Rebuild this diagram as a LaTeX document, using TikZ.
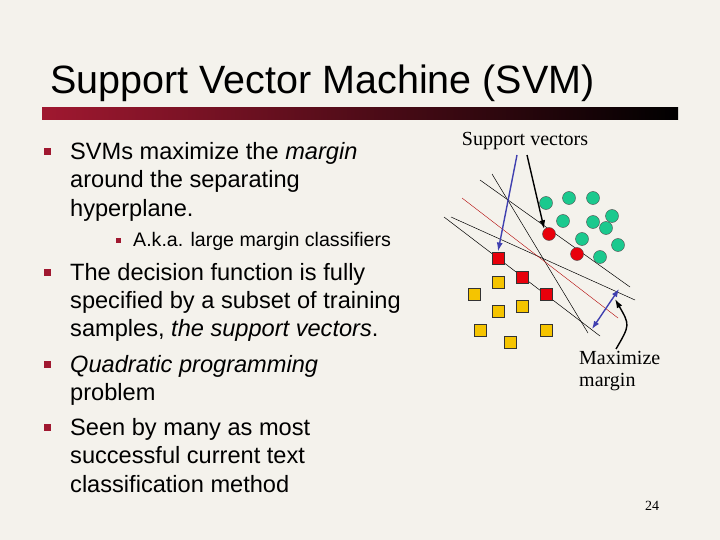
\documentclass[tikz,border=0pt]{standalone}
\usepackage{fontspec}
\setmainfont{Liberation Sans}
\newfontfamily\serifx{Liberation Serif}
\usetikzlibrary{arrows.meta}
\definecolor{bg}{HTML}{F4F2EC}
\definecolor{bul}{HTML}{A01830}
\definecolor{grn}{HTML}{1BC98E}
\definecolor{ylw}{HTML}{F5C400}
\definecolor{rd}{HTML}{E8000B}
\definecolor{bluearr}{HTML}{4040B0}
\begin{document}
\begin{tikzpicture}[x=1pt,y=-1pt,
  txt/.style={anchor=base west,inner sep=0pt,font=\fontsize{23.6}{26}\selectfont},
  stxt/.style={anchor=base west,inner sep=0pt,font=\fontsize{19.6}{22}\selectfont},
  bullet/.style={fill=bul,minimum size=7pt,inner sep=0pt},
  sbullet/.style={fill=bul,minimum size=5pt,inner sep=0pt},
  gc/.style={circle,draw=black!70,fill=grn,minimum size=13pt,inner sep=0pt,line width=0.4pt},
  rc/.style={circle,draw=black!70,fill=rd,minimum size=13pt,inner sep=0pt,line width=0.4pt},
  ys/.style={draw=black!80,fill=ylw,minimum size=12.5pt,inner sep=0pt,line width=0.4pt},
  rs/.style={draw=black!80,fill=rd,minimum size=12.5pt,inner sep=0pt,line width=0.4pt},
  hl/.style={line width=0.5pt,black},
  lab/.style={font=\serifx\fontsize{20}{22}\selectfont,inner sep=0pt,align=left}]
\fill[bg] (0,0) rectangle (720,540);
\useasboundingbox (0,0) rectangle (720,540);
\node[anchor=base west,inner sep=0pt,font=\fontsize{39.5}{44}\selectfont] (title) at (50,94) {Support Vector Machine (SVM)};
\shade[left color=bul,middle color=bul!85!black,right color=black] (42,108) rectangle (678,120);
\coordinate (bar) at (360,114);
% bullets
\node[bullet] (b1) at (47,152) {};
\node[bullet] (b2) at (47,272) {};
\node[bullet] (b3) at (47,364) {};
\node[bullet] (b4) at (47,427) {};
\node[sbullet] (s1) at (118,240) {};
\node[txt] (t1) at (70,160) {SVMs maximize the \textit{margin}};
\node[txt] (t2) at (70,188) {around the separating};
\node[txt] (t3) at (70,217) {hyperplane.};
\node[stxt] (t4) at (133,246) {A.k.a. large margin classifiers};
\node[txt] (t5) at (70,280) {The decision function is fully};
\node[txt] (t6) at (70,308) {specified by a subset of training};
\node[txt] (t7) at (70,336) {samples, \textit{the support vectors}.};
\node[txt] (t8) at (70,372) {\textit{Quadratic programming}};
\node[txt] (t9) at (70,400) {problem};
\node[txt] (t10) at (70,435) {Seen by many as most};
\node[txt] (t11) at (70,463) {successful current text};
\node[txt] (t12) at (70,492) {classification method};
% lines
\coordinate (la1) at (480,180); \coordinate (la2) at (630,287);
\coordinate (lb1) at (444,217); \coordinate (lb2) at (600,336);
\coordinate (lr1) at (462,198); \coordinate (lr2) at (618,318);
\coordinate (lc1) at (492,174); \coordinate (lc2) at (588,333);
\coordinate (ld1) at (451,217); \coordinate (ld2) at (635,300);
\draw[hl] (la1) -- (la2);
\draw[hl] (lb1) -- (lb2);
\draw[hl] (lc1) -- (lc2);
\draw[hl] (ld1) -- (ld2);
\draw[line width=0.4pt,red!70!black] (lr1) -- (lr2);
% points
\foreach \n/\x/\y in {g1/546/203,g2/569/198,g3/593/198,g4/563/221,g5/593/222,g6/612/216,g7/606/228,g8/582/239,g9/618/245,g10/600/257}
  \node[gc] (\n) at (\x,\y) {};
\node[rc] (r1) at (549,234) {};
\node[rc] (r2) at (577,254) {};
\node[rs] (q1) at (498,258) {};
\node[rs] (q2) at (522,277) {};
\node[rs] (q3) at (546,294) {};
\foreach \n/\x/\y in {y1/498/282,y2/474/294,y3/498/311,y4/522/306,y5/480/330,y6/546/330,y7/510/342}
  \node[ys] (\n) at (\x,\y) {};
% labels and arrows
\node[lab,anchor=base] (sv) at (525,146) {Support vectors};
\node[lab,anchor=north west] (mm) at (579,351) {Maximize\\margin};
\draw[-{Latex[length=9pt,width=6pt]},line width=1.4pt,bluearr] (517,155) -- (q1.north);
\draw[-{Latex[length=9pt,width=6pt]},line width=1.4pt,black] (527,155) -- (r1.north west);
\coordinate (m1) at (619,289); \coordinate (m2) at (592,329);
\draw[{Latex[length=8pt,width=6pt]}-{Latex[length=8pt,width=6pt]},line width=1.4pt,bluearr] (m1) -- (m2);
\draw[-{Latex[length=9pt,width=6pt]},line width=1.4pt,black] (616,349) .. controls (630,325) .. (615,299);
\node[font=\serifx\fontsize{14}{16}\selectfont,anchor=base] (pg) at (652,510) {24};
\end{tikzpicture}
\end{document}
